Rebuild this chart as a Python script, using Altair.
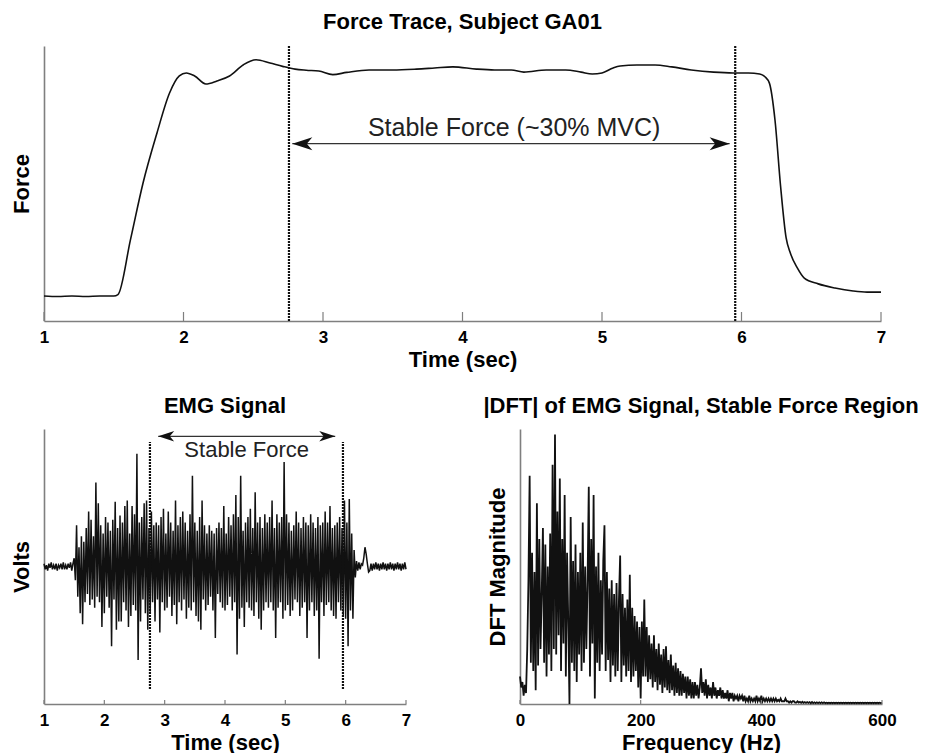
import altair as alt
import numpy as np
import pandas as pd

FONT = "Liberation Sans"
GRAY = "#7f7f7f"
INK = "#111111"

# ---------------- Force trace (top panel) ----------------
force_time = [1.00, 1.10, 1.20, 1.30, 1.40, 1.50, 1.53, 1.62, 1.71, 1.81, 1.90, 1.97, 2.02, 2.08, 2.16,
              2.24, 2.33, 2.43, 2.52, 2.62, 2.71, 2.80, 2.88, 2.97, 3.07, 3.17, 3.33, 3.50, 3.67, 3.80,
              3.93, 4.10, 4.23, 4.35, 4.44, 4.60, 4.74, 4.85, 4.93, 5.00, 5.08, 5.13, 5.25, 5.38, 5.50,
              5.64, 5.80, 5.94, 6.05, 6.13, 6.17, 6.20, 6.24, 6.28, 6.32, 6.35, 6.40, 6.45, 6.55, 6.67,
              6.80, 6.90, 7.00]
force_level = [0.091, 0.089, 0.091, 0.089, 0.091, 0.091, 0.096, 0.296, 0.502, 0.684, 0.829, 0.891, 0.902, 0.891, 0.862,
               0.873, 0.891, 0.932, 0.950, 0.938, 0.926, 0.916, 0.912, 0.909, 0.896, 0.904, 0.913, 0.913, 0.916, 0.920,
               0.924, 0.916, 0.913, 0.913, 0.905, 0.913, 0.913, 0.905, 0.898, 0.902, 0.920, 0.927, 0.931, 0.931, 0.924,
               0.913, 0.905, 0.902, 0.902, 0.898, 0.887, 0.865, 0.731, 0.491, 0.302, 0.247, 0.193, 0.156, 0.135, 0.120,
               0.109, 0.105, 0.105]

stable_bounds = [2.756, 5.955]
force_arrow = {"t1": 2.78, "t2": 5.915, "v": 0.645}
force_label = {"t": 4.37, "v": 0.673, "text": "Stable Force (~30% MVC)"}
time_ticks = [1, 2, 3, 4, 5, 6, 7]

# ---------------- EMG signal (bottom left), x100 volts units ----------------
emg_pre = [2, -2, 1, -3, 2, -1, 3, -2, 1, -2, 2, -3, 1, -1, 2, -2, 3, -2, 1, -2, 2, -1, 3, -3, 2]
emg_active = [
    6, -10, 30, -22, 14, -34, 22, -42, 18, -26,
    28, -20, 40, -28, 34, -24, 22, -30, 61, -22,
    46, -26, 30, -44, 24, -34, 36, -22, 32, -30,
    26, -58, 34, -24, 47, -46, 28, -40, 37, -40,
    32, -26, 44, -32, 48, -44, 24, -36, 44, -28,
    38, -32, 82, -68, 32, -40, 36, -24, 46, -34,
    48, -46, 28, -34, 40, -26, 30, -40, 32, -24,
    30, -48, 36, -26, 42, -32, 24, -30, 40, -22,
    32, -36, 26, -28, 48, -42, 30, -26, 36, -32,
    40, -24, 32, -38, 26, -30, 38, -32, 66, -26,
    32, -36, 26, -40, 36, -46, 48, -24, 30, -32,
    24, -28, 30, -22, 26, -32, 24, -52, 28, -20,
    32, -26, 28, -30, 44, -32, 24, -28, 36, -22,
    30, -32, 38, -26, 52, -64, 36, -38, 66, -30,
    26, -44, 32, -26, 36, -30, 42, -32, 28, -36,
    54, -26, 32, -38, 36, -46, 28, -32, 38, -26,
    32, -30, 36, -26, 48, -32, 28, -52, 38, -30,
    32, -26, 36, -38, 76, -32, 38, -28, 32, -36,
    26, -32, 30, -24, 40, -26, 32, -36, 28, -30,
    36, -26, 32, -52, 30, -32, 38, -26, 32, -36,
    28, -32, 36, -67, 30, -26, 32, -36, 40, -28,
    32, -26, 44, -32, 28, -36, 30, -38, 32, -26,
    36, -32, 28, -36, 48, -38, 32, -58, 49, -32,
    24, -38, 12, -8]
emg_post = [4, -3, 3, -2, 2, 1, 6, 14, 9, 2, -4, -3, 2, -3, 2, -2,
            3, -2, 2, -3, 2, -2, 3, -2, 2, -3,
            2, -2, 3, -2, 2, -3, 2, -2, 3, -2,
            2, -3, 2, -2, 3, -2]
emg_step = 0.02
emg_stable_span = [-0.89, 0.905]
emg_arrow = {"t1": 2.893, "t2": 5.827, "v": 0.947}
emg_label = {"t": 4.36, "v": 0.796, "text": "Stable Force"}

# ---------------- |DFT| (bottom right), percent of axis height ----------------
dft_low = [
    10, 6, 8, 3, 7, 4, 20, 45, 83, 15,
    55, 12, 48, 5, 73, 14, 60, 20, 40, 64,
    15, 58, 10, 50, 18, 62, 12, 87, 20, 98,
    18, 70, 25, 82, 12, 60, 22, 76, 10, 55,
    30, 0, 68, 15, 52, 12, 58, 8, 48, 18,
    55, 12, 66, 15, 50, 20, 45, 79, 10, 60,
    22, 76, 2, 50, 15, 55, 12, 45, 18, 52,
    65, 12, 48, 16, 42, 8, 45, 14, 40, 10,
    44, 12, 38, 54, 8, 40, 14, 35, 10, 38,
    12, 47, 8, 35, 10, 32, 12, 30, 6, 28,
    2, 30, 10, 38, 10, 28, 8, 25, 9, 22,
    6, 25, 8, 20, 5, 22, 7, 18, 4, 20,
    6, 21, 5, 16, 4, 18, 5, 14, 3, 15,
    4, 13, 3, 12, 3, 11, 4, 10, 2, 10,
    3, 9, 2, 8, 2, 8, 3, 7, 2, 6]
dft_high = [
    13, 4, 8, 3, 9, 2, 7, 3, 6, 2,
    8, 3, 6, 2, 5, 3, 6, 2, 5, 2,
    4, 2, 5, 1, 4, 2, 4, 1, 3, 2,
    3, 1, 3, 2, 3, 1, 3, 1, 2, 1,
    3, 1, 2, 1, 2, 1, 3, 1, 2, 1,
    3, 1, 2, 1, 2, 1, 2, 1, 2, 1,
    2, 1, 2, 1, 1.5, 1, 2, 1, 1, 1,
    2, 1, 1, 0.5, 1, 0.5, 1, 1, 0.5, 0.5,
    1, 0.5, 0.8, 0.4, 0.8, 0.4, 0.7, 0.4, 0.7, 0.4,
    0.7, 0.3, 0.7, 0.3, 0.6, 0.3, 0.6, 0.3, 0.6, 0.3,
    0.6, 0.3, 0.6, 0.3, 0.5, 0.3, 0.5, 0.3, 0.5, 0.3,
    0.5, 0.3, 0.5, 0.3, 0.5, 0.3, 0.5, 0.3, 0.5, 0.3,
    0.5, 0.3, 0.5, 0.3, 0.5, 0.3, 0.5, 0.3, 0.5, 0.3,
    0.5, 0.3, 0.5, 0.3, 0.5, 0.3, 0.5, 0.3, 0.5, 0.3,
    0.5, 0.3, 0.5, 0.3, 0.5, 0.3, 0.5, 0.3, 0.5, 0.3,
    0.4]
dft_step = 2
freq_ticks = [0, 200, 400, 600]

# ---------------- tables ----------------
force_df = pd.DataFrame({"t": force_time, "v": force_level})
emg_vals = emg_pre + emg_active + emg_post
emg_df = pd.DataFrame({"t": np.round(1.0 + emg_step * np.arange(len(emg_vals)), 3),
                       "v": np.array(emg_vals) / 100.0})
dft_vals = dft_low + dft_high
dft_df = pd.DataFrame({"f": dft_step * np.arange(len(dft_vals)), "m": dft_vals})

ARROW_LEFT = "M0,0 L2,-0.65 L1.45,0 L2,0.65 Z"

TOP_W, TOP_H = 837, 275
BOT_W, BOT_H = 362, 275

TIME_SCALE = alt.Scale(domain=[1, 7], nice=False, zero=False)
FREQ_SCALE = alt.Scale(domain=[0, 600], nice=False, zero=False)
FORCE_SCALE = alt.Scale(domain=[0, 1], nice=False, zero=False)
VOLT_SCALE = alt.Scale(domain=[-1, 1], nice=False, zero=False)
MAG_SCALE = alt.Scale(domain=[0, 100], nice=False, zero=False)


def x_axis(title, values):
    return alt.Axis(values=values, format="d", title=title, ticks=False, tickSize=0, labelFlush=False,
                    labelPadding=8, titlePadding=4, grid=False)


def y_axis(title):
    return alt.Axis(title=title, labels=False, ticks=False, tickSize=0, grid=False,
                    titlePadding=16, titleBaseline="alphabetic")


def X(field, scale, title, values):
    return alt.X(field, scale=scale, axis=x_axis(title, values))


def Y(field, scale, title):
    return alt.Y(field, scale=scale, axis=y_axis(title))


DOTS = dict(color=INK, strokeWidth=2.2, strokeDash=[2, 1])

# ---------- top panel ----------
TX = lambda f: X(f, TIME_SCALE, "Time (sec)", time_ticks)
FY = lambda f: Y(f, FORCE_SCALE, "Force")

force_line = alt.Chart(force_df).mark_line(color=INK, strokeWidth=1.6, interpolate="monotone").encode(
    x=TX("t:Q"), y=FY("v:Q"))
force_bounds = alt.Chart(pd.DataFrame({"t": stable_bounds})).mark_rule(**DOTS).encode(x=TX("t:Q"))
arrow_df = pd.DataFrame([force_arrow])
force_arrow_line = alt.Chart(arrow_df).mark_rule(color="#333333", strokeWidth=1.3).encode(
    x=TX("t1:Q"), x2="t2:Q", y=FY("v:Q"))
force_head_l = alt.Chart(arrow_df).mark_point(shape=ARROW_LEFT, size=400, filled=True, opacity=1,
                                              color=INK, strokeWidth=0).encode(x=TX("t1:Q"), y=FY("v:Q"))
force_head_r = alt.Chart(arrow_df).mark_point(shape=ARROW_LEFT, size=400, filled=True, opacity=1,
                                              color=INK, strokeWidth=0, angle=180).encode(x=TX("t2:Q"), y=FY("v:Q"))
force_text = alt.Chart(pd.DataFrame([force_label])).mark_text(
    font=FONT, fontSize=25, color="#222222", align="center", baseline="alphabetic").encode(
    x=TX("t:Q"), y=FY("v:Q"), text="text:N")
force_ticks = alt.Chart(pd.DataFrame({"t": time_ticks})).mark_rule(color=GRAY, strokeWidth=1.2).encode(
    x=TX("t:Q"), y=alt.value(TOP_H), y2=alt.value(TOP_H - 9))

top = alt.layer(force_line, force_ticks, force_bounds, force_arrow_line, force_head_l, force_head_r,
                force_text).properties(width=TOP_W, height=TOP_H, title="Force Trace, Subject GA01")

# ---------- EMG panel ----------
EY = lambda f: Y(f, VOLT_SCALE, "Volts")

emg_line = alt.Chart(emg_df).mark_line(color=INK, strokeWidth=1.5).encode(x=TX("t:Q"), y=EY("v:Q"))
emg_bounds = alt.Chart(pd.DataFrame({"t": stable_bounds, "lo": emg_stable_span[0], "hi": emg_stable_span[1]})).mark_rule(
    **DOTS).encode(x=TX("t:Q"), y=EY("lo:Q"), y2="hi:Q")
emg_arrow_df = pd.DataFrame([emg_arrow])
emg_arrow_line = alt.Chart(emg_arrow_df).mark_rule(color="#333333", strokeWidth=1.3).encode(
    x=TX("t1:Q"), x2="t2:Q", y=EY("v:Q"))
emg_head_l = alt.Chart(emg_arrow_df).mark_point(shape=ARROW_LEFT, size=256, filled=True, opacity=1,
                                                color=INK, strokeWidth=0).encode(x=TX("t1:Q"), y=EY("v:Q"))
emg_head_r = alt.Chart(emg_arrow_df).mark_point(shape=ARROW_LEFT, size=256, filled=True, opacity=1,
                                                color=INK, strokeWidth=0, angle=180).encode(x=TX("t2:Q"), y=EY("v:Q"))
emg_text = alt.Chart(pd.DataFrame([emg_label])).mark_text(
    font=FONT, fontSize=22, color="#222222", align="center", baseline="alphabetic").encode(
    x=TX("t:Q"), y=EY("v:Q"), text="text:N")
emg_ticks = alt.Chart(pd.DataFrame({"t": time_ticks})).mark_rule(color=GRAY, strokeWidth=1.2).encode(
    x=TX("t:Q"), y=alt.value(BOT_H), y2=alt.value(BOT_H - 4))

emg = alt.layer(emg_line, emg_ticks, emg_bounds, emg_arrow_line, emg_head_l, emg_head_r, emg_text).properties(
    width=BOT_W, height=BOT_H, title="EMG Signal")

# ---------- DFT panel ----------
FX = lambda f: X(f, FREQ_SCALE, "Frequency (Hz)", freq_ticks)
dft_line = alt.Chart(dft_df).mark_line(color=INK, strokeWidth=1.8).encode(
    x=FX("f:Q"), y=Y("m:Q", MAG_SCALE, "DFT Magnitude"))
dft_ticks = alt.Chart(pd.DataFrame({"f": freq_ticks})).mark_rule(color=GRAY, strokeWidth=1.2).encode(
    x=FX("f:Q"), y=alt.value(BOT_H), y2=alt.value(BOT_H - 4))

dft = alt.layer(dft_line, dft_ticks).properties(
    width=BOT_W, height=BOT_H, title="|DFT| of EMG Signal, Stable Force Region")

chart = alt.vconcat(top, alt.hconcat(emg, dft, spacing=72), spacing=25).properties(
    padding={"left": 10, "top": 10, "right": 0, "bottom": 0},
    background="white",
).configure_view(stroke=None).configure_axis(
    labelFont=FONT, labelFontSize=17, labelFontWeight="bold", labelColor="black",
    titleFont=FONT, titleFontSize=22, titleFontWeight="bold", titleColor="black",
    domainColor=GRAY, domainWidth=1.6, grid=False,
).configure_title(
    font=FONT, fontSize=22, fontWeight="bold", color="black", offset=11, baseline="alphabetic", anchor="middle"
)

chart.save("out.html", embed_options={"renderer": "svg", "actions": False})
